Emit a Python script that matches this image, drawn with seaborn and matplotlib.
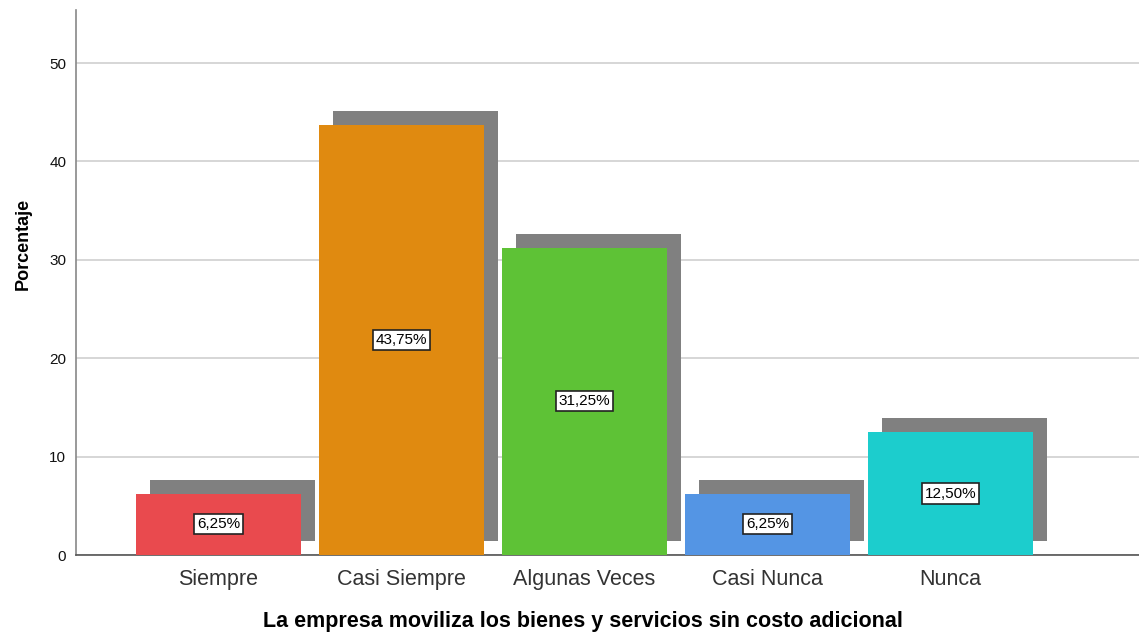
import matplotlib
matplotlib.use("Agg")
import matplotlib.pyplot as plt
import numpy as np
import seaborn as sns

# datos
categorias = ["Siempre", "Casi Siempre", "Algunas Veces", "Casi Nunca", "Nunca"]
porcentajes = [6.25, 43.75, 31.25, 6.25, 12.50]
etiquetas = ["6,25%", "43,75%", "31,25%", "6,25%", "12,50%"]
colores = ["#E94A4E", "#E08A10", "#5EC236", "#5495E4", "#1CCDCD"]

sns.set_theme(style="white")
plt.rcParams["font.family"] = ["Liberation Sans", "DejaVu Sans"]

fig = plt.figure(figsize=(11.39, 6.37), dpi=100)
ax = fig.add_axes([0.0667, 0.1287, 0.9333, 0.8557])

ancho = 0.9
dx, dy = 0.0765, 1.42
pos = np.arange(len(categorias))

# sombras grises
ax.bar(pos + dx, porcentajes, bottom=dy, width=ancho, color="#808080", lw=0, zorder=2)

sns.barplot(x=categorias, y=porcentajes, hue=categorias, palette=colores,
            width=ancho, legend=False, ax=ax, saturation=1, linewidth=0, zorder=3)

for i, (v, t) in enumerate(zip(porcentajes, etiquetas)):
    ax.text(i, v / 2, t, ha="center", va="center", fontsize=11, color="black", zorder=5,
            bbox=dict(boxstyle="square,pad=0.2", fc="white", ec="#222222", lw=1.2))

ax.set_xlim(-0.779, 5.03)
ax.set_ylim(0, 55.4)
ax.set_yticks([0, 10, 20, 30, 40, 50])
ax.yaxis.grid(True, color="#d0d0d0", lw=1.2, zorder=0)
ax.set_axisbelow(True)
ax.tick_params(axis="x", length=0, pad=10, labelsize=15.5, labelcolor="#333333")
ax.tick_params(axis="y", length=0, pad=7, labelsize=11, labelcolor="#111111")

for s in ["top", "right"]:
    ax.spines[s].set_visible(False)
ax.spines["left"].set_color("#888888")
ax.spines["bottom"].set_color("#555555")
ax.spines["left"].set_linewidth(1.2)
ax.spines["bottom"].set_linewidth(1.2)

ax.set_ylabel("Porcentaje", fontsize=13, fontweight="bold", color="black")
ax.set_xlabel("La empresa moviliza los bienes y servicios sin costo adicional",
              fontsize=15.5, fontweight="bold", color="black")
ax.yaxis.set_label_coords(-0.0414, 0.5716)
ax.xaxis.set_label_coords(0.4765, -0.103)

fig.savefig("out.png", dpi=100)
